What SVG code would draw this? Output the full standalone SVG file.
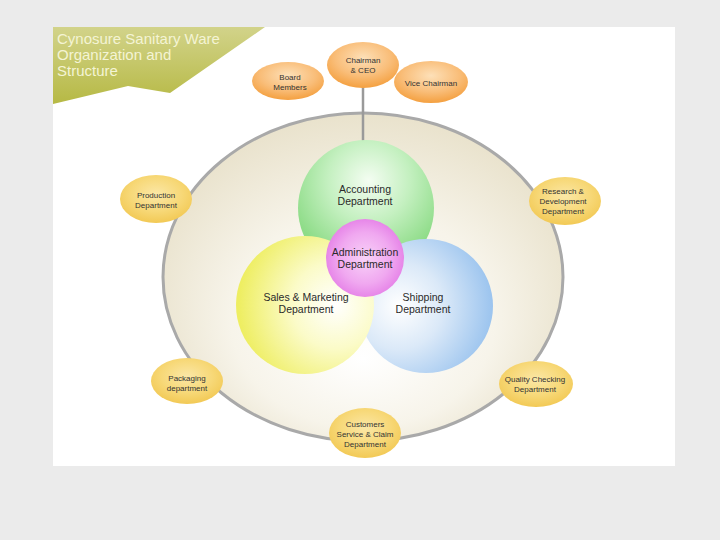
<svg xmlns="http://www.w3.org/2000/svg" width="720" height="540" viewBox="0 0 720 540">
<defs>
<linearGradient id="banner" x1="0" y1="0" x2="0" y2="1">
<stop offset="0" stop-color="#d2d38a"/>
<stop offset="1" stop-color="#b6b944"/>
</linearGradient>
<radialGradient id="ring" cx="0.5" cy="0.55" r="0.55" fx="0.5" fy="0.75">
<stop offset="0" stop-color="#ffffff"/>
<stop offset="0.6" stop-color="#f7f4ea"/>
<stop offset="1" stop-color="#e9e2cc"/>
</radialGradient>
<radialGradient id="orange" cx="0.5" cy="0.35" r="0.65">
<stop offset="0" stop-color="#fde0b8"/>
<stop offset="0.6" stop-color="#f9bd78"/>
<stop offset="1" stop-color="#f4a040"/>
</radialGradient>
<radialGradient id="gold" cx="0.5" cy="0.4" r="0.6">
<stop offset="0" stop-color="#fbe7a6"/>
<stop offset="0.6" stop-color="#f7d877"/>
<stop offset="1" stop-color="#f2c955"/>
</radialGradient>
<radialGradient id="green" cx="0.52" cy="0.3" r="0.6">
<stop offset="0" stop-color="#f4fdf2"/>
<stop offset="0.5" stop-color="#c4f0c0"/>
<stop offset="1" stop-color="#8edc88"/>
</radialGradient>
<radialGradient id="yellow" cx="0.72" cy="0.5" r="0.7">
<stop offset="0" stop-color="#ffffff"/>
<stop offset="0.45" stop-color="#fbfbc8"/>
<stop offset="1" stop-color="#eeee62"/>
</radialGradient>
<radialGradient id="blue" cx="0.3" cy="0.5" r="0.72">
<stop offset="0" stop-color="#ffffff"/>
<stop offset="0.45" stop-color="#dbe9f8"/>
<stop offset="1" stop-color="#98c2ee"/>
</radialGradient>
<radialGradient id="pink" cx="0.5" cy="0.5" r="0.55">
<stop offset="0" stop-color="#f8d2f8"/>
<stop offset="0.6" stop-color="#f0a8f0"/>
<stop offset="1" stop-color="#e47ce6"/>
</radialGradient>
<style>
text{font-family:"Liberation Sans",Arial,sans-serif;text-anchor:middle;fill:#2a2a2a}
.s{font-size:8px;fill:#333}
.m{font-size:10.5px}
.t{font-size:15px;fill:#f4f4d4;text-anchor:start}
</style>
</defs>
<rect width="720" height="540" fill="#ebebeb"/>
<rect x="53" y="27" width="622" height="439" fill="#ffffff"/>
<g id="title">
<polygon points="53,27 265,27 170,93 128,86 53,104" fill="url(#banner)"/>
<text class="t" x="57" y="44">Cynosure Sanitary Ware</text>
<text class="t" x="57" y="60">Organization and</text>
<text class="t" x="57" y="76">Structure</text>
</g>
<g id="ring-boundary">
<ellipse cx="363" cy="277" rx="200" ry="164" fill="url(#ring)" stroke="#a9a9a9" stroke-width="3"/>
</g>
<g id="connectors">
<line x1="363" y1="86" x2="363" y2="142" stroke="#9a9a9a" stroke-width="2.5"/>
</g>
<g id="accounting">
<circle cx="366" cy="208" r="68" fill="url(#green)"/>
<text class="m" x="365" y="193">Accounting</text>
<text class="m" x="365" y="205">Department</text>
</g>
<g id="shipping">
<circle cx="426" cy="306" r="67" fill="url(#blue)"/>
<text class="m" x="423" y="301">Shipping</text>
<text class="m" x="423" y="313">Department</text>
</g>
<g id="sales">
<circle cx="305" cy="305" r="69" fill="url(#yellow)"/>
<text class="m" x="306" y="301">Sales &amp; Marketing</text>
<text class="m" x="306" y="313">Department</text>
</g>
<g id="administration">
<circle cx="365" cy="258" r="39" fill="url(#pink)"/>
<text class="m" x="365" y="256">Administration</text>
<text class="m" x="365" y="268">Department</text>
</g>
<g id="board-members">
<ellipse cx="288" cy="81" rx="36" ry="19" fill="url(#orange)"/>
<text class="s" x="290" y="80">Board</text>
<text class="s" x="290" y="90">Members</text>
</g>
<g id="chairman">
<ellipse cx="363" cy="65" rx="36" ry="23" fill="url(#orange)"/>
<text class="s" x="363" y="63">Chairman</text>
<text class="s" x="363" y="73">&amp; CEO</text>
</g>
<g id="vice-chairman">
<ellipse cx="431" cy="82" rx="37" ry="21" fill="url(#orange)"/>
<text class="s" x="431" y="86">Vice Chairman</text>
</g>
<g id="production">
<ellipse cx="156" cy="199" rx="36" ry="24" fill="url(#gold)"/>
<text class="s" x="156" y="198">Production</text>
<text class="s" x="156" y="208">Department</text>
</g>
<g id="research">
<ellipse cx="565" cy="201" rx="36" ry="24" fill="url(#gold)"/>
<text class="s" x="563" y="194">Research &amp;</text>
<text class="s" x="563" y="204">Development</text>
<text class="s" x="563" y="214">Department</text>
</g>
<g id="packaging">
<ellipse cx="187" cy="381" rx="36" ry="23" fill="url(#gold)"/>
<text class="s" x="187" y="381">Packaging</text>
<text class="s" x="187" y="391">department</text>
</g>
<g id="quality">
<ellipse cx="536" cy="384" rx="37" ry="23" fill="url(#gold)"/>
<text class="s" x="535" y="382">Quality Checking</text>
<text class="s" x="535" y="392">Department</text>
</g>
<g id="customers">
<ellipse cx="365" cy="433" rx="36" ry="25" fill="url(#gold)"/>
<text class="s" x="365" y="427">Customers</text>
<text class="s" x="365" y="437">Service &amp; Claim</text>
<text class="s" x="365" y="447">Department</text>
</g>
</svg>
